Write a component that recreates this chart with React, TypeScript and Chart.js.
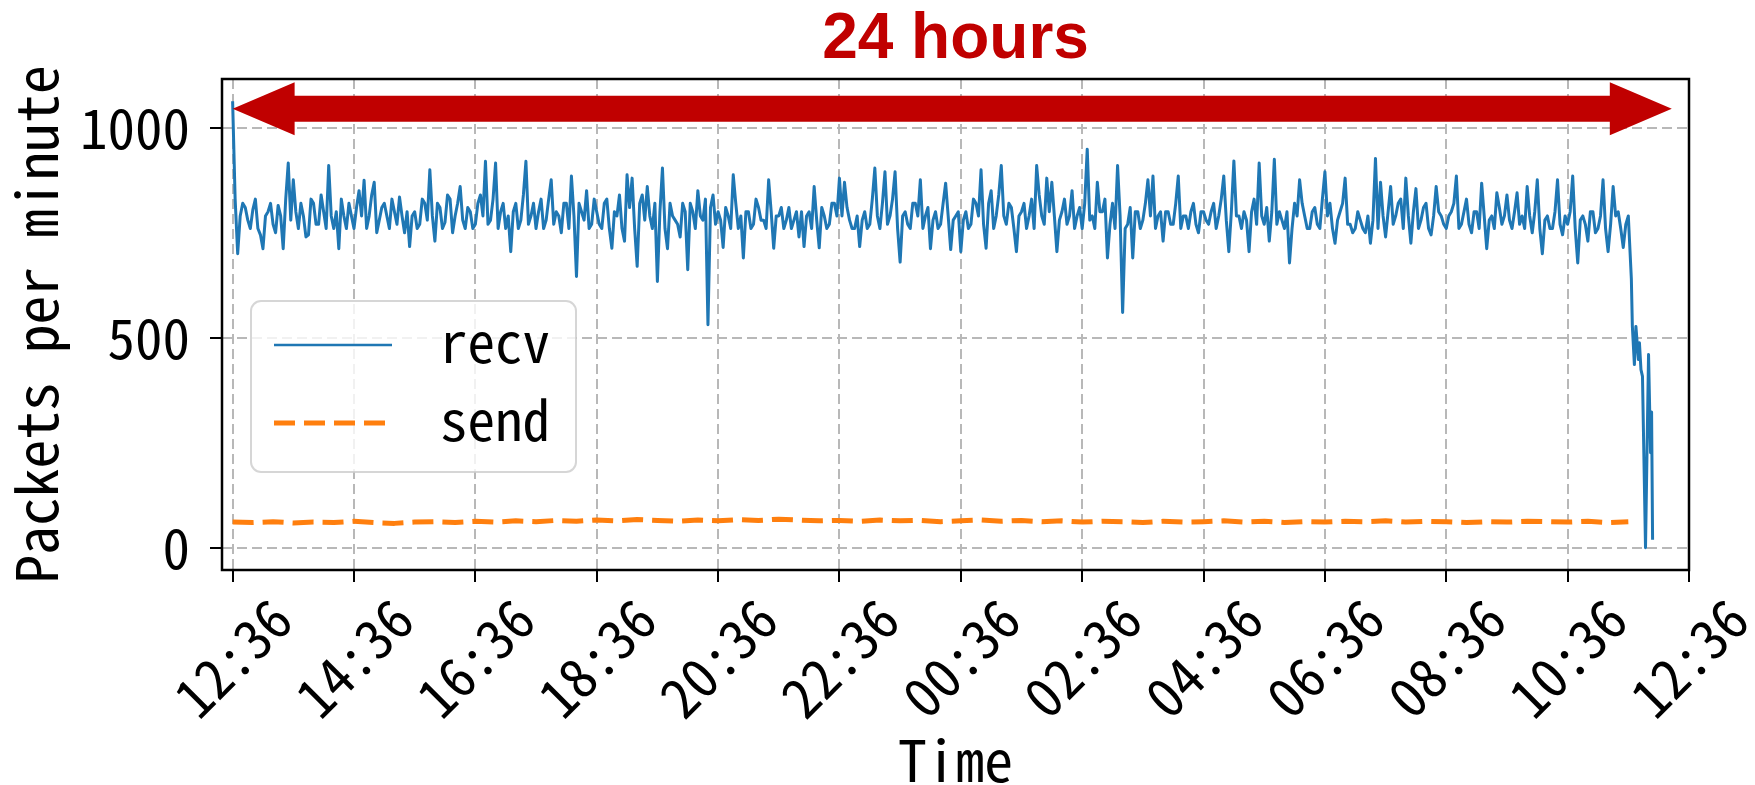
import React, { useEffect, useRef } from "react";
import { Chart, registerables } from "chart.js";

Chart.register(...registerables);

// ---- data ----
const TICK_MINUTES = [0, 120, 240, 360, 480, 600, 720, 840, 960, 1080, 1200, 1320, 1440];
const TICK_LABELS = ["12:36", "14:36", "16:36", "18:36", "20:36", "22:36", "00:36", "02:36", "04:36", "06:36", "08:36", "10:36", "12:36"];
const Y_TICKS = [0, 500, 1000];
const X_MIN = -10.5;
const X_MAX = 1440;
const Y_MIN = -53;
const Y_MAX = 1116;

// recv: readings at minutes 0, 5, 10, ... (minute 0 = 12:36)
const RECV_STEP_MIN = 5;
const RECV_VALUES = [
  1063, 700, 820, 780, 805, 760, 712, 800, 770, 815, 712, 916,
  876, 760, 790, 745, 820, 770, 800, 910, 760, 712, 790, 820,
  760, 850, 875, 790, 870, 780, 820, 760, 800, 835, 750, 717,
  800, 770, 820, 900, 730, 810, 775, 830, 790, 860, 760, 800,
  770, 840, 920, 780, 916, 800, 760, 705, 820, 780, 920, 790,
  760, 830, 780, 876, 800, 750, 820, 885, 646, 800, 850, 770,
  800, 760, 830, 713, 790, 760, 888, 880, 670, 840, 860, 760,
  634, 904, 712, 790, 770, 820, 662, 800, 850, 780, 531, 840,
  800, 715, 790, 888, 760, 690, 800, 770, 810, 780, 876, 713,
  790, 760, 810, 780, 740, 717, 800, 860, 714, 790, 770, 820,
  880, 870, 780, 760, 717, 800, 770, 904, 760, 895, 790, 895,
  680, 800, 760, 820, 876, 790, 712, 800, 770, 868, 710, 790,
  705, 800, 770, 820, 900, 713, 850, 790, 910, 770, 810, 705,
  800, 760, 830, 910, 790, 880, 870, 705, 800, 770, 850, 790,
  760, 949, 790, 870, 800, 690, 820, 910, 560, 770, 690, 800,
  780, 876, 885, 790, 730, 800, 770, 885, 790, 760, 820, 750,
  800, 770, 820, 790, 885, 705, 921, 790, 800, 705, 830, 916,
  770, 730, 925, 800, 760, 678, 820, 876, 790, 760, 810, 760,
  895, 820, 725, 800, 880, 770, 760, 780, 750, 725, 927, 870,
  740, 860, 790, 830, 880, 725, 855, 780, 820, 745, 860, 790,
  760, 800, 885, 770, 830, 750, 800, 868, 712, 790, 845, 770,
  840, 760, 845, 790, 860, 750, 876, 700, 790, 760, 876, 745,
  770, 885, 678, 790, 730, 800, 760, 876, 705, 860, 800, 715,
  790,
];
// recv: readings at minutes 2.5, 7.5, 12.5, ...
const RECV_MID_OFFSET_MIN = 2.5;
const RECV_MID_VALUES = [
  830, 790, 810, 760, 830, 745, 790, 820, 750, 790, 830, 780,
  800, 820, 740, 830, 770, 840, 760, 790, 800, 830, 760, 790,
  810, 790, 760, 840, 750, 810, 790, 830, 770, 790, 800, 790,
  760, 830, 780, 790, 820, 760, 840, 750, 820, 780, 810, 760,
  820, 790, 770, 830, 760, 820, 790, 800, 760, 840, 770, 820,
  800, 760, 830, 770, 790, 820, 760, 790, 820, 780, 760, 830,
  770, 820, 760, 800, 840, 730, 810, 760, 820, 780, 790, 820,
  800, 760, 820, 780, 740, 800, 820, 760, 790, 830, 810, 770,
  780, 810, 760, 820, 790, 800, 760, 830, 780, 760, 800, 790,
  810, 780, 760, 800, 800, 790, 760, 780, 810, 760, 820, 790,
  790, 810, 760, 790, 780, 760, 830, 790, 820, 770, 830, 760,
  790, 770, 820, 790, 760, 810, 780, 760, 820, 790, 780, 800,
  780, 760, 830, 790, 770, 820, 760, 840, 790, 820, 760, 790,
  820, 790, 760, 840, 770, 800, 790, 780, 830, 790, 760, 810,
  820, 780, 760, 800, 830, 770, 760, 790, 760, 810, 800, 760,
  820, 790, 760, 800, 800, 770, 820, 760, 790, 800, 770, 800,
  780, 800, 760, 830, 780, 800, 790, 760, 780, 800, 770, 790,
  810, 800, 770, 780, 800, 760, 790, 820, 760, 800, 770, 830,
  790, 760, 780, 820, 770, 750, 800, 760, 790, 780, 760, 790,
  800, 770, 820, 760, 790, 800, 760, 810, 760, 790, 800, 770,
  790, 820, 760, 800, 770, 800, 760, 790, 780, 760, 810, 790,
  780, 800, 770, 760, 790, 800, 760, 780, 760, 800, 770, 790,
  800, 760, 780, 770, 800, 750, 790, 760, 770, 790, 760, 770,
];
// recv: final drop, exact minutes
const RECV_TAIL_MINUTES = [1383, 1384, 1386, 1387.5, 1390, 1391, 1392.5, 1394, 1397, 1400, 1402, 1403, 1404];
const RECV_TAIL_VALUES = [640, 527, 436, 527, 448, 488, 424, 408, 0, 460, 226, 323, 19];

// send: one reading every 20 minutes
const SEND_STEP_MIN = 20;
const SEND_VALUES = [
  61, 60, 62, 59, 61, 60, 63, 60, 58, 61,
  62, 60, 63, 61, 64, 62, 65, 63, 66, 64,
  67, 65, 63, 66, 64, 67, 65, 68, 66, 64,
  65, 63, 66, 64, 65, 62, 64, 66, 63, 65,
  62, 64, 61, 63, 62, 60, 63, 61, 62, 64,
  61, 63, 60, 62, 61, 63, 62, 64, 61, 63,
  62, 60, 62, 61, 63, 62, 61, 63, 60, 62,
];

const SERIES_NAMES = ["recv", "send"];
const TITLE = "24 hours";
const X_TITLE = "Time";
const Y_TITLE = "Packets per minute";
// arrow end points in data units
const ARROW_START_MIN = 0;
const ARROW_END_MIN = 1423;
const ARROW_Y = 1045;

const BLUE = "#1f77b4";
const ORANGE = "#ff7f0e";
const RED = "#c00000";
const MONO = "'Noto Sans Mono CJK JP', 'Noto Sans Mono CJK SC', 'DejaVu Sans Mono', monospace";

export default function App() {
  const ref = useRef<HTMLCanvasElement>(null);

  useEffect(() => {
    const canvas = ref.current;
    if (!canvas) return;

    const mctx = document.createElement("canvas").getContext("2d")!;
    mctx.font = `100px ${MONO}`;
    const adv = mctx.measureText("0000000000").width / 10;
    const fs = Math.round((27.5 / adv) * 1000) / 10;
    const fsTitle = Math.round((28.8 / adv) * 1000) / 10;
    const monoFont = `${fs}px ${MONO}`;
    const axisTitleFont = `${fsTitle}px ${MONO}`;

    const recvPoints = RECV_VALUES.map((v, i) => ({ x: i * RECV_STEP_MIN, y: v }))
      .concat(RECV_MID_VALUES.map((v, i) => ({ x: i * RECV_STEP_MIN + RECV_MID_OFFSET_MIN, y: v })))
      .concat(RECV_TAIL_MINUTES.map((m, i) => ({ x: m, y: RECV_TAIL_VALUES[i] })))
      .sort((p, q) => p.x - q.x);
    const sendPoints = SEND_VALUES.map((v, i) => ({ x: i * SEND_STEP_MIN, y: v }));

    const overlay = {
      id: "overlay",
      afterDatasetsDraw(chart: any) {
        const { ctx, chartArea: a, scales } = chart;
        const xs = scales.x;
        const ys = scales.y;
        ctx.save();

        // frame (spines)
        ctx.strokeStyle = "#000";
        ctx.lineWidth = 2.5;
        ctx.setLineDash([]);
        ctx.strokeRect(a.left, a.top, a.right - a.left, a.bottom - a.top);

        // legend
        const lx = 251, ly = 301, lw = 325, lh = 171, r = 10;
        ctx.beginPath();
        ctx.moveTo(lx + r, ly);
        ctx.arcTo(lx + lw, ly, lx + lw, ly + lh, r);
        ctx.arcTo(lx + lw, ly + lh, lx, ly + lh, r);
        ctx.arcTo(lx, ly + lh, lx, ly, r);
        ctx.arcTo(lx, ly, lx + lw, ly, r);
        ctx.closePath();
        ctx.fillStyle = "rgba(255,255,255,0.8)";
        ctx.fill();
        ctx.strokeStyle = "rgba(204,204,204,0.8)";
        ctx.lineWidth = 2;
        ctx.stroke();

        ctx.lineCap = "butt";
        ctx.strokeStyle = BLUE;
        ctx.lineWidth = 2.5;
        ctx.beginPath();
        ctx.moveTo(274, 345);
        ctx.lineTo(392, 345);
        ctx.stroke();

        ctx.strokeStyle = ORANGE;
        ctx.lineWidth = 5;
        ctx.setLineDash([21, 9]);
        ctx.beginPath();
        ctx.moveTo(274, 423);
        ctx.lineTo(392, 423);
        ctx.stroke();
        ctx.setLineDash([]);

        ctx.fillStyle = "#000";
        ctx.font = monoFont;
        ctx.textAlign = "left";
        ctx.textBaseline = "alphabetic";
        ctx.fillText(SERIES_NAMES[0], 440, 363);
        ctx.fillText(SERIES_NAMES[1], 440, 441);

        // x tick labels (rotated, centred on ticks)
        ctx.textAlign = "center";
        ctx.textBaseline = "middle";
        TICK_MINUTES.forEach((m, i) => {
          const px = xs.getPixelForValue(m);
          ctx.save();
          ctx.translate(px, 658);
          ctx.rotate(-Math.PI / 4);
          ctx.fillText(TICK_LABELS[i], 0, 0);
          ctx.restore();
        });

        // axis titles
        ctx.font = axisTitleFont;
        ctx.textBaseline = "alphabetic";
        ctx.fillText(X_TITLE, (a.left + a.right) / 2, 782);
        ctx.save();
        ctx.translate(58, (a.top + a.bottom) / 2);
        ctx.rotate(-Math.PI / 2);
        ctx.fillText(Y_TITLE, 0, 0);
        ctx.restore();

        // double-headed arrow
        const x0 = xs.getPixelForValue(ARROW_START_MIN);
        const x1 = xs.getPixelForValue(ARROW_END_MIN);
        const yc = ys.getPixelForValue(ARROW_Y);
        const sh = 13, hh = 26.5, hl = 62;
        ctx.fillStyle = RED;
        ctx.beginPath();
        ctx.moveTo(x0, yc);
        ctx.lineTo(x0 + hl, yc - hh);
        ctx.lineTo(x0 + hl, yc - sh);
        ctx.lineTo(x1 - hl, yc - sh);
        ctx.lineTo(x1 - hl, yc - hh);
        ctx.lineTo(x1, yc);
        ctx.lineTo(x1 - hl, yc + hh);
        ctx.lineTo(x1 - hl, yc + sh);
        ctx.lineTo(x0 + hl, yc + sh);
        ctx.lineTo(x0 + hl, yc + hh);
        ctx.closePath();
        ctx.fill();

        // title
        ctx.font = "bold 64px 'Liberation Sans', Arial, sans-serif";
        ctx.textAlign = "center";
        ctx.textBaseline = "alphabetic";
        ctx.fillText(TITLE, (a.left + a.right) / 2, 58);

        ctx.restore();
      },
    };

    const gridCommon = {
      color: "#b8b8b8",
      lineWidth: 2,
      borderDash: [10, 5],
      drawTicks: true,
      tickLength: 12,
      tickColor: "#000",
      tickWidth: 2,
      tickBorderDash: [],
    };

    const chart = new Chart(canvas, {
      type: "line",
      data: {
        datasets: [
          {
            label: SERIES_NAMES[0],
            data: recvPoints,
            borderColor: BLUE,
            backgroundColor: BLUE,
            borderWidth: 3,
            pointRadius: 0,
            tension: 0,
            fill: false,
            borderJoinStyle: "round",
          },
          {
            label: SERIES_NAMES[1],
            data: sendPoints,
            borderColor: ORANGE,
            backgroundColor: ORANGE,
            borderWidth: 5,
            borderDash: [21, 9],
            borderCapStyle: "butt",
            borderJoinStyle: "round",
            pointRadius: 0,
            tension: 0,
            fill: false,
          },
        ],
      },
      options: {
        responsive: false,
        animation: false,
        devicePixelRatio: 1,
        layout: { padding: { left: 0, right: 66, top: 79, bottom: 0 } },
        plugins: {
          legend: { display: false },
          tooltip: { enabled: false },
          title: { display: false },
        },
        scales: {
          x: {
            type: "linear",
            min: X_MIN,
            max: X_MAX,
            afterBuildTicks: (s: any) => {
              s.ticks = TICK_MINUTES.map((v) => ({ value: v }));
            },
            afterFit: (s: any) => {
              s.height = 215;
            },
            ticks: { display: false, autoSkip: false },
            grid: gridCommon,
            border: { display: false, dash: [10, 5] },
          },
          y: {
            type: "linear",
            min: Y_MIN,
            max: Y_MAX,
            afterBuildTicks: (s: any) => {
              s.ticks = Y_TICKS.map((v) => ({ value: v }));
            },
            afterFit: (s: any) => {
              s.width = 222;
            },
            ticks: {
              color: "#000",
              padding: 20,
              font: { family: MONO, size: fs },
              callback: (v: any) => String(v),
            },
            grid: gridCommon,
            border: { display: false, dash: [10, 5] },
          },
        },
      } as any,
      plugins: [overlay],
    } as any);

    return () => chart.destroy();
  }, []);

  return (
    <div style={{ position: "fixed", left: 0, top: 0, width: 1755, height: 785, background: "#fff" }}>
      <canvas ref={ref} width={1755} height={785} style={{ width: 1755, height: 785, display: "block" }} />
    </div>
  );
}
